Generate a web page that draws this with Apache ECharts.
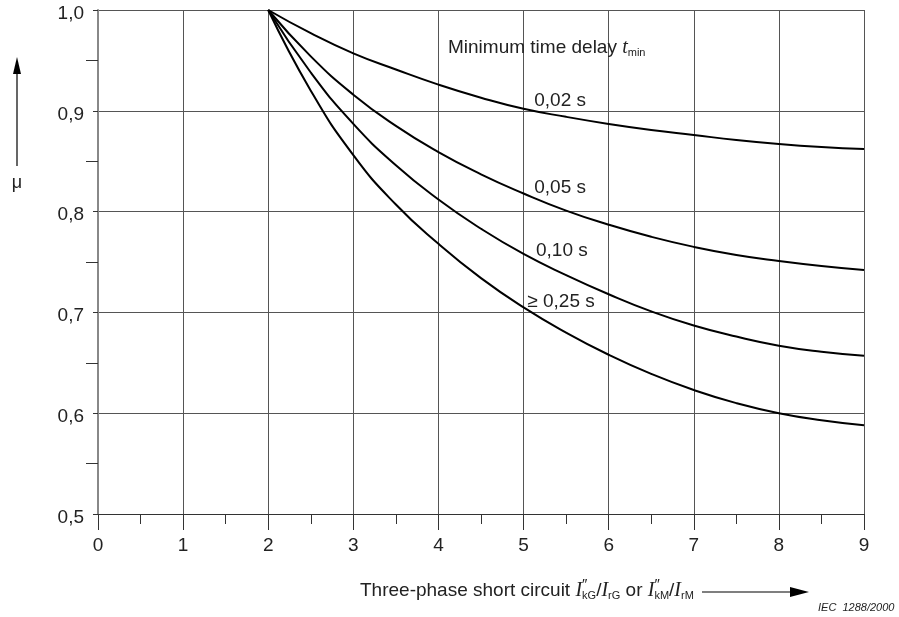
<!DOCTYPE html>
<html>
<head>
<meta charset="utf-8">
<script src="https://cdn.jsdelivr.net/npm/echarts@6/dist/echarts.min.js"></script>
<style>
html, body { margin: 0; padding: 0; background: #fff; }
#main { width: 899px; height: 617px; }
</style>
</head>
<body>
<div id="main"></div>
<script>
// current ratio I"k / Ir (x) and factor mu for each minimum time delay
var ratio  = [2,    2.5,   3,     3.5,   4,     4.5,   5,     5.5,   6,     6.5,   7,     7.5,   8,     8.5,   9];
var mu002  = [1.0,  0.977, 0.957, 0.941, 0.926, 0.913, 0.902, 0.894, 0.887, 0.881, 0.876, 0.871, 0.867, 0.864, 0.862];
var mu005  = [1.0,  0.954, 0.916, 0.885, 0.859, 0.837, 0.818, 0.801, 0.787, 0.775, 0.765, 0.757, 0.751, 0.746, 0.742];
var mu010  = [1.0,  0.938, 0.887, 0.846, 0.812, 0.783, 0.758, 0.737, 0.718, 0.701, 0.687, 0.676, 0.667, 0.661, 0.657];
var mu025  = [1.0,  0.920, 0.856, 0.807, 0.768, 0.734, 0.705, 0.680, 0.658, 0.639, 0.623, 0.610, 0.600, 0.593, 0.588];

var curveNames = ['0,02 s', '0,05 s', '0,10 s', '\u2265 0,25 s'];
var xLabels = ['0', '1', '2', '3', '4', '5', '6', '7', '8', '9'];
var yLabels = ['0,5', '0,6', '0,7', '0,8', '0,9', '1,0'];

var FONT = 'Liberation Sans, Arial, sans-serif';

function pairs(ys) {
  var out = [];
  for (var i = 0; i < ratio.length; i++) {
    out.push([ratio[i], ys[i]]);
  }
  return out;
}

function curve(name, ys) {
  return {
    name: name,
    type: 'line',
    data: pairs(ys),
    smooth: 0.5,
    showSymbol: false,
    silent: true,
    lineStyle: { color: '#000', width: 2 }
  };
}

var myChart = echarts.init(document.getElementById('main'));

var option = {
  animation: false,
  backgroundColor: '#fff',
  grid: { left: 98, right: 35, top: 10, bottom: 103 },
  xAxis: {
    type: 'value',
    min: 0,
    max: 9,
    interval: 1,
    axisLine: { show: true, onZero: false, lineStyle: { color: '#333', width: 1 } },
    axisTick: { show: true, length: 16, lineStyle: { color: '#333' } },
    minorTick: { show: true, splitNumber: 2, length: 10, lineStyle: { color: '#333' } },
    splitLine: { show: true, lineStyle: { color: '#555', width: 1 } },
    axisLabel: {
      margin: 22, fontSize: 19, color: '#222', fontFamily: FONT,
      formatter: function (v) { return xLabels[Math.round(v)]; }
    }
  },
  yAxis: {
    type: 'value',
    min: 0.5,
    max: 1.0,
    interval: 0.1,
    axisLine: { show: true, lineStyle: { color: '#888', width: 2 } },
    axisTick: { show: true, length: 5, lineStyle: { color: '#333' } },
    minorTick: { show: true, splitNumber: 2, length: 12, lineStyle: { color: '#333' } },
    splitLine: { show: true, lineStyle: { color: '#555', width: 1 } },
    axisLabel: {
      margin: 14, color: '#222',
      formatter: function (v) { return '{v|' + yLabels[Math.round((v - 0.5) * 10)] + '}'; },
      rich: { v: { fontSize: 19, fontFamily: FONT, color: '#222', padding: [7, 0, 0, 0] } }
    }
  },
  series: [
    curve(curveNames[0], mu002),
    curve(curveNames[1], mu005),
    curve(curveNames[2], mu010),
    curve(curveNames[3], mu025)
  ]
};

myChart.setOption(option);

// curve labels, anchored in data units
var labelAt = [[5.43, 0.910], [5.43, 0.824], [5.45, 0.761], [5.44, 0.711]];
var graphics = [];
for (var i = 0; i < curveNames.length; i++) {
  var p = myChart.convertToPixel({ gridIndex: 0 }, labelAt[i]);
  graphics.push({
    type: 'text', x: p[0], y: p[1],
    style: { text: curveNames[i], fontSize: 19, fontFamily: FONT, fill: '#222', align: 'center', verticalAlign: 'middle' }
  });
}

// legend heading
graphics.push({
  type: 'text', x: 448, y: 48,
  style: {
    text: '{a|Minimum time delay }{t|t}{s|min}',
    verticalAlign: 'middle',
    rich: {
      a: { fontSize: 19, fontFamily: FONT, fill: '#222' },
      t: { fontSize: 20, fontFamily: 'Liberation Serif', fontStyle: 'italic', fill: '#222' },
      s: { fontSize: 11, fontFamily: FONT, fill: '#222', padding: [10, 0, 0, 0] }
    }
  }
});

// y axis name with arrow
graphics.push(
  { type: 'line', shape: { x1: 17, y1: 166, x2: 17, y2: 70 }, style: { stroke: '#000', lineWidth: 1.2 } },
  { type: 'polygon', shape: { points: [[17, 57], [13, 74], [21, 74]] }, style: { fill: '#000' } },
  { type: 'text', x: 17, y: 183, style: { text: '\u03bc', fontSize: 18, fontFamily: FONT, fill: '#222', align: 'center', verticalAlign: 'middle' } }
);

// x axis name with arrow
graphics.push(
  {
    type: 'text', x: 360, y: 591,
    style: {
      text: '{a|Three-phase short circuit }{i|I}{p|\u2033}{s|kG}{a|/}{i|I}{s|rG}{a| or }{i|I}{p|\u2033}{s|kM}{a|/}{i|I}{s|rM}',
      verticalAlign: 'middle',
      rich: {
        a: { fontSize: 19, fontFamily: FONT, fill: '#222' },
        i: { fontSize: 20, fontFamily: 'Liberation Serif', fontStyle: 'italic', fill: '#222' },
        p: { fontSize: 15, fontFamily: FONT, fill: '#222', width: 0, padding: [0, 0, 12, 0] },
        s: { fontSize: 11, fontFamily: FONT, fill: '#222', padding: [10, 0, 0, 0] }
      }
    }
  },
  { type: 'line', shape: { x1: 702, y1: 592, x2: 795, y2: 592 }, style: { stroke: '#000', lineWidth: 1.2 } },
  { type: 'polygon', shape: { points: [[809, 592], [790, 587], [790, 597]] }, style: { fill: '#000' } },
  {
    type: 'text', x: 818, y: 608,
    style: { text: 'IEC  1288/2000', fontSize: 11, fontFamily: FONT, fontStyle: 'italic', fill: '#222', verticalAlign: 'middle' }
  }
);

myChart.setOption({ graphic: graphics });
</script>
</body>
</html>
